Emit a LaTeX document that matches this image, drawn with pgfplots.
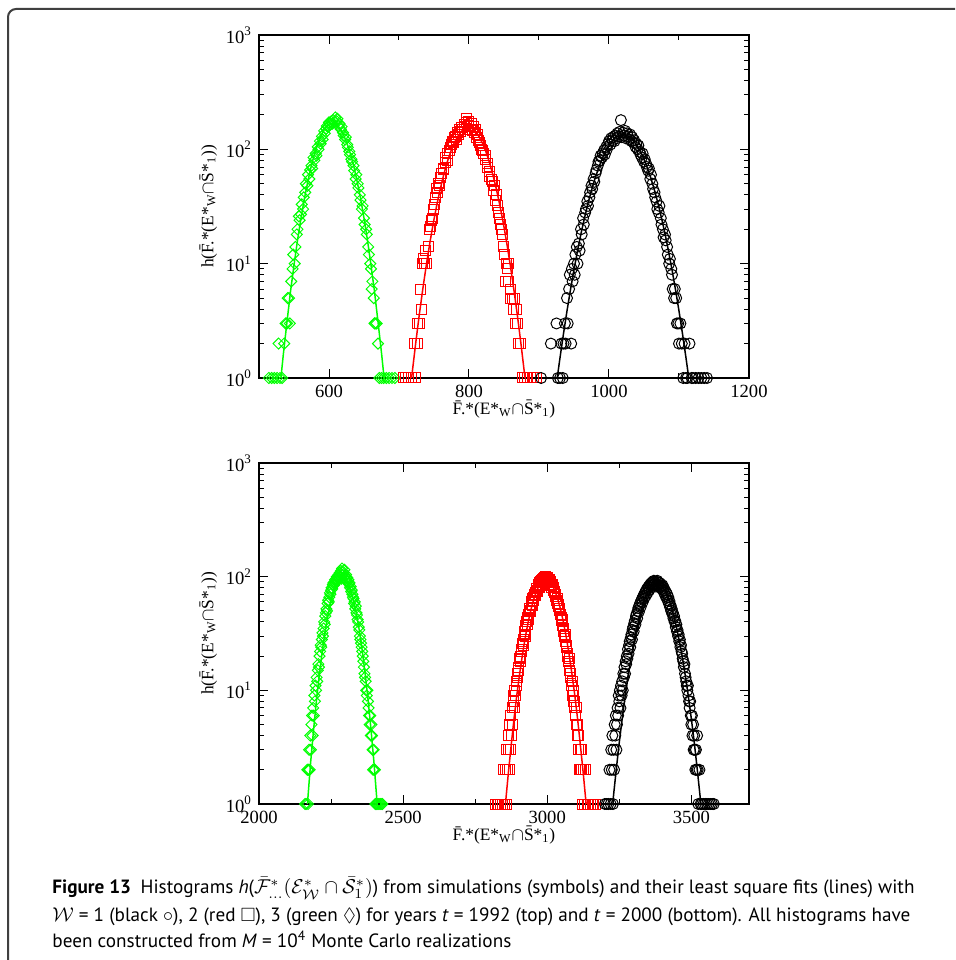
\documentclass[border=0pt]{standalone}
\usepackage{amssymb}
\usepackage{fontspec}
\setmainfont{Liberation Serif}
\newfontfamily\capfont{PT Sans}
\usepackage{pgfplots}
\pgfplotsset{compat=1.18}
\definecolor{xgreen}{RGB}{0,255,0}
\definecolor{xred}{RGB}{255,0,0}
\begin{document}
\begin{tikzpicture}
\path[use as bounding box] (0pt,0pt) rectangle (477.5pt,480pt);
\clip (0pt,0pt) rectangle (477.5pt,480pt);
\draw[black!75, line width=1pt, rounded corners=4pt] (4pt,-5pt) -- (4pt,475.5pt) -- (490pt,475.5pt);

% ---------------- top: t = 1992 ----------------
\begin{axis}[at={(129.5pt,291pt)}, anchor=south west,
  scale only axis, width=245pt, height=171.5pt,
  ymode=log, ymin=1, ymax=1000,
  ytick={1,10,100,1000},
  minor ytick={2,3,4,5,6,7,8,9,20,30,40,50,60,70,80,90,200,300,400,500,600,700,800,900},
  yticklabels={10\textsuperscript{0},10\textsuperscript{1},10\textsuperscript{2},10\textsuperscript{3}},
  xmin=500, xmax=1200, xtick={600,800,1000,1200}, xticklabels={600,800,1000,1200},
  minor xtick={700,900,1100},
  tick align=inside, xtick pos=both, ytick pos=both,
  major tick length=4.5pt, minor tick length=2.3pt,
  tick style={black, line width=0.5pt},
  axis line style={line width=0.75pt},
  tick label style={font=\fontsize{9.3}{11}\selectfont},
  label style={font=\fontsize{8.7}{10}\selectfont},
  xlabel style={yshift=5.5pt}, ylabel style={yshift=-2.5pt},
  clip=false,
  ylabel={h(\=F.*(E*\textsubscript{W}$\cap$\=S*\textsubscript{1}))},
  xlabel={\=F.*(E*\textsubscript{W}$\cap$\=S*\textsubscript{1})}]
\addplot[only marks, mark=square, mark size=1.95pt, mark options={solid, rotate=45, line width=0.5pt, xgreen}] coordinates {
(514,1)(518,1)(522,1)(526,1)(528,2)(530,1)(533,1)(536,2)(538,3)(540,3)(541,5)(543,5)(544,3)(546,7)(548,9)(549,12)(551,10)(552,14)(554,18)(555,20)(557,26)(558,24)(560,27)(561,33)(563,30)(564,38)(566,42)(567,50)(569,48)(570,60)(572,55)(573,66)(575,72)(576,68)(578,85)(579,80)(581,92)(582,88)(584,105)(585,100)(587,118)(588,112)(590,130)(591,122)(593,145)(594,138)(596,152)(597,160)(599,158)(600,172)(602,165)(603,175)(605,168)(606,180)(608,172)(609,190)(611,176)(612,185)(614,160)(615,168)(617,150)(618,158)(620,140)(621,132)(623,122)(624,128)(626,110)(627,104)(629,96)(630,90)(632,82)(633,78)(635,72)(636,65)(638,55)(639,60)(641,50)(642,46)(644,40)(645,36)(647,30)(648,32)(650,25)(651,22)(653,20)(654,18)(656,14)(657,12)(659,10)(660,9)(661,6)(662,7)(664,5)(665,3)(666,3)(668,3)(670,2)(672,1)(675,1)(678,1)(682,1)(686,1)(690,1)(694,1)};
\addplot[no markers, line width=0.75pt, xgreen] coordinates {
(531.3,1)(535,1.66)(540,3.1)(545,5.7)(550,9.7)(555,16)(560,25)(565,37.5)(570,53)(575,73)(580,94)(585,116)(590,137)(595,155)(600,166)(605,170)(610,166)(615,155)(620,137)(625,116)(630,94)(635,73)(640,53)(645,37.5)(650,25)(655,16)(660,9.7)(665,5.7)(670,3.1)(675,1.66)(678.7,1)};
\addplot[only marks, mark=square, mark size=2.5pt, mark options={solid, line width=0.5pt, xred}] coordinates {
(706,1)(710,1)(714,1)(718,1)(722,2)(724,1)(726,2)(727,3)(729,3)(731,6)(732,4)(734,10)(735,11)(737,10)(738,13)(740,10)(742,14)(743,20)(745,21)(746,24)(748,25)(749,30)(751,33)(752,38)(754,45)(755,42)(757,50)(758,48)(760,57)(761,62)(763,68)(764,66)(766,76)(767,84)(769,80)(770,92)(772,98)(773,104)(775,110)(776,118)(778,115)(779,126)(781,130)(782,122)(784,140)(785,135)(787,148)(788,142)(790,155)(791,150)(793,165)(794,158)(796,172)(797,185)(799,160)(800,175)(802,150)(803,168)(805,145)(806,158)(808,140)(809,150)(811,128)(812,135)(814,120)(815,115)(817,108)(818,100)(820,98)(821,92)(823,82)(824,88)(826,75)(827,70)(829,64)(830,58)(832,55)(833,52)(835,44)(836,48)(838,36)(839,40)(841,32)(842,28)(844,25)(845,22)(847,20)(848,18)(850,14)(851,12)(852,7)(853,10)(855,9)(856,7)(857,10)(859,5)(860,6)(862,5)(863,4)(865,5)(866,3)(868,4)(869,3)(871,2)(873,2)(876,1)(880,1)(884,1)(888,1)(892,1)(896,1)};
\addplot[no markers, line width=0.75pt, xred] coordinates {
(718,1)(719,1.13)(724,2.05)(729,3.58)(734,6.0)(739,9.7)(744,15.1)(749,22.7)(754,32.6)(759,45.2)(764,60.4)(769,77.6)(774,95.8)(779,114)(784,130)(789,143.5)(794,152)(799,155)(804,152)(809,143.5)(814,130)(819,114)(824,95.8)(829,77.6)(834,60.4)(839,45.2)(844,32.6)(849,22.7)(854,15.1)(859,9.7)(864,6.0)(869,3.58)(874,2.05)(879,1.13)(880,1)};
\addplot[only marks, mark=o, mark size=2.75pt, mark options={solid, line width=0.5pt, black}] coordinates {
(903,1)(917,2)(925,3)(927,1)(930,1)(932,2)(934,1)(935,2)(937,3)(938,2)(940,5)(941,3)(943,6)(944,8)(946,2)(947,9)(948,7)(950,10)(951,8)(952,12)(954,14)(955,10)(957,15)(958,13)(960,20)(961,18)(963,25)(964,22)(966,28)(967,30)(969,35)(970,32)(972,38)(973,42)(975,48)(976,45)(978,55)(979,52)(981,62)(982,66)(984,72)(985,78)(987,80)(988,88)(990,85)(991,92)(993,98)(994,90)(996,105)(997,100)(999,112)(1000,118)(1002,110)(1003,125)(1005,120)(1006,128)(1008,118)(1009,132)(1011,125)(1012,138)(1014,130)(1015,142)(1017,180)(1018,128)(1020,140)(1021,132)(1023,145)(1024,125)(1026,138)(1027,130)(1029,122)(1030,135)(1032,118)(1033,128)(1035,115)(1036,120)(1038,105)(1039,112)(1041,100)(1042,108)(1044,95)(1045,90)(1047,85)(1048,92)(1050,78)(1051,82)(1053,75)(1054,70)(1056,65)(1057,68)(1059,55)(1060,60)(1062,50)(1063,45)(1065,42)(1066,38)(1068,35)(1069,30)(1071,28)(1072,32)(1074,25)(1075,22)(1077,20)(1078,17)(1080,18)(1081,16)(1083,14)(1084,12)(1086,10)(1087,11)(1089,9)(1090,8)(1091,6)(1093,5)(1094,6)(1096,5)(1097,3)(1099,3)(1100,2)(1102,3)(1104,2)(1106,1)(1108,2)(1110,1)(1112,1)(1115,2)(1118,1)(1120,1)(1124,1)(1128,1)(1132,1)(1136,1)(1140,1)};
\addplot[no markers, line width=0.75pt, black] coordinates {
(926,1)(930,1.5)(935,2.44)(940,3.86)(945,5.93)(950,8.87)(955,12.9)(960,18.3)(965,25.1)(970,33.7)(975,43.8)(980,55.5)(985,68.3)(990,81.9)(995,95.4)(1000,108)(1005,119)(1010,127.7)(1015,133)(1020,135)(1025,133)(1030,127.7)(1035,119)(1040,108)(1045,95.4)(1050,81.9)(1055,68.3)(1060,55.5)(1065,43.8)(1070,33.7)(1075,25.1)(1080,18.3)(1085,12.9)(1090,8.87)(1095,5.93)(1100,3.86)(1105,2.44)(1110,1.5)(1114,1)};
\end{axis}

% ---------------- bottom: t = 2000 ----------------
\begin{axis}[at={(129.5pt,78pt)}, anchor=south west,
  scale only axis, width=245pt, height=170.5pt,
  ymode=log, ymin=1, ymax=1000,
  ytick={1,10,100,1000},
  minor ytick={2,3,4,5,6,7,8,9,20,30,40,50,60,70,80,90,200,300,400,500,600,700,800,900},
  yticklabels={10\textsuperscript{0},10\textsuperscript{1},10\textsuperscript{2},10\textsuperscript{3}},
  xmin=2000, xmax=3700, xtick={2000,2500,3000,3500}, xticklabels={2000,2500,3000,3500},
  minor xtick={2250,2750,3250},
  tick align=inside, xtick pos=both, ytick pos=both,
  major tick length=4.5pt, minor tick length=2.3pt,
  tick style={black, line width=0.5pt},
  axis line style={line width=0.75pt},
  tick label style={font=\fontsize{9.3}{11}\selectfont},
  label style={font=\fontsize{8.7}{10}\selectfont},
  xlabel style={yshift=5.5pt}, ylabel style={yshift=-2.5pt},
  clip=false,
  ylabel={h(\=F.*(E*\textsubscript{W}$\cap$\=S*\textsubscript{1}))},
  xlabel={\=F.*(E*\textsubscript{W}$\cap$\=S*\textsubscript{1})}]
\addplot[only marks, mark=square, mark size=1.95pt, mark options={solid, rotate=45, line width=0.5pt, xgreen}] coordinates {
(2160,1)(2164,1)(2168,2)(2170,1)(2172,2)(2174,3)(2176,2)(2178,4)(2180,3)(2182,5)(2184,6)(2186,4)(2188,7)(2190,6)(2192,9)(2194,8)(2196,11)(2198,10)(2200,13)(2202,12)(2204,15)(2206,17)(2208,16)(2210,20)(2212,22)(2214,25)(2216,24)(2218,28)(2220,32)(2222,30)(2224,35)(2226,40)(2228,38)(2230,45)(2232,48)(2234,52)(2236,50)(2238,58)(2240,62)(2242,60)(2244,66)(2246,72)(2248,70)(2250,76)(2252,80)(2254,78)(2256,85)(2258,88)(2260,84)(2262,90)(2264,94)(2266,88)(2268,96)(2270,100)(2272,92)(2274,98)(2276,104)(2278,96)(2280,108)(2282,100)(2284,112)(2286,96)(2288,118)(2290,104)(2292,110)(2294,98)(2296,115)(2298,102)(2300,96)(2302,104)(2304,92)(2306,98)(2308,90)(2310,94)(2312,86)(2314,88)(2316,80)(2318,82)(2320,74)(2322,76)(2324,70)(2326,66)(2328,64)(2330,58)(2332,60)(2334,52)(2336,55)(2338,48)(2340,46)(2342,42)(2344,40)(2346,36)(2348,34)(2350,30)(2352,28)(2354,26)(2356,24)(2358,22)(2360,20)(2362,18)(2364,16)(2366,14)(2368,13)(2370,12)(2372,10)(2374,9)(2376,10)(2378,8)(2380,7)(2382,6)(2384,5)(2386,6)(2388,4)(2390,5)(2392,4)(2394,3)(2396,2)(2398,3)(2400,2)(2402,2)(2404,1)(2408,1)(2412,1)(2416,1)(2420,1)(2424,1)(2428,1)};
\addplot[no markers, line width=0.75pt, xgreen] coordinates {
(2168,1)(2179,2.3)(2189,4.4)(2199,8.0)(2209,13.5)(2219,21.6)(2229,32.5)(2239,45.8)(2249,60.7)(2259,75.5)(2269,88.2)(2279,96.9)(2289,100)(2299,96.9)(2309,88.2)(2319,75.5)(2329,60.7)(2339,45.8)(2349,32.5)(2359,21.6)(2369,13.5)(2379,8.0)(2389,4.4)(2399,2.3)(2410,1)};
\addplot[only marks, mark=square, mark size=2.5pt, mark options={solid, line width=0.5pt, xred}] coordinates {
(2820,1)(2826,1)(2832,1)(2838,1)(2844,1)(2848,2)(2852,1)(2856,2)(2858,3)(2860,1)(2862,2)(2864,3)(2866,4)(2868,2)(2870,5)(2872,3)(2874,6)(2876,4)(2878,7)(2880,5)(2882,8)(2884,9)(2886,7)(2888,10)(2890,9)(2892,12)(2894,11)(2896,14)(2898,13)(2900,16)(2902,15)(2904,19)(2906,20)(2908,18)(2910,23)(2912,22)(2914,26)(2916,28)(2918,25)(2920,31)(2922,33)(2924,30)(2926,37)(2928,40)(2930,38)(2932,44)(2934,46)(2936,42)(2938,50)(2940,53)(2942,49)(2944,57)(2946,60)(2948,56)(2950,64)(2952,66)(2954,62)(2956,70)(2958,72)(2960,68)(2962,76)(2964,79)(2966,74)(2968,82)(2970,85)(2972,80)(2974,88)(2976,90)(2978,84)(2980,92)(2982,95)(2984,88)(2986,96)(2988,92)(2990,98)(2992,90)(2994,100)(2996,94)(2998,97)(3000,90)(3002,99)(3004,93)(3006,88)(3008,95)(3010,86)(3012,90)(3014,84)(3016,80)(3018,85)(3020,76)(3022,80)(3024,72)(3026,74)(3028,67)(3030,70)(3032,62)(3034,64)(3036,58)(3038,55)(3040,57)(3042,50)(3044,52)(3046,46)(3048,44)(3050,41)(3052,42)(3054,37)(3056,35)(3058,33)(3060,30)(3062,31)(3064,27)(3066,25)(3068,24)(3070,21)(3072,20)(3074,18)(3076,19)(3078,15)(3080,14)(3082,13)(3084,11)(3086,12)(3088,9)(3090,10)(3092,8)(3094,7)(3096,8)(3098,6)(3100,5)(3102,7)(3104,4)(3106,5)(3108,3)(3110,4)(3112,2)(3114,3)(3116,2)(3118,3)(3120,2)(3122,1)(3126,2)(3130,1)(3134,2)(3138,1)(3144,1)(3150,1)(3156,1)(3162,1)(3168,1)};
\addplot[no markers, line width=0.75pt, xred] coordinates {
(2855,1)(2865,1.86)(2875,3.3)(2885,5.7)(2895,9.3)(2905,14.4)(2915,21.4)(2925,30.4)(2935,41.1)(2945,53.1)(2955,65.5)(2965,77)(2975,86.6)(2985,92.8)(2995,95)(3005,92.8)(3015,86.6)(3025,77)(3035,65.5)(3045,53.1)(3055,41.1)(3065,30.4)(3075,21.4)(3085,14.4)(3095,9.3)(3105,5.7)(3115,3.3)(3125,1.86)(3135,1)};
\addplot[only marks, mark=o, mark size=2.75pt, mark options={solid, line width=0.5pt, black}] coordinates {
(3200,1)(3206,1)(3212,1)(3216,2)(3220,1)(3222,3)(3224,2)(3226,4)(3228,1)(3230,3)(3232,2)(3234,5)(3236,4)(3238,6)(3240,3)(3242,5)(3244,7)(3246,6)(3248,9)(3250,8)(3252,10)(3254,7)(3256,11)(3258,9)(3260,12)(3262,10)(3264,14)(3266,13)(3268,16)(3270,14)(3272,18)(3274,17)(3276,20)(3278,19)(3280,23)(3282,21)(3284,25)(3286,27)(3288,24)(3290,29)(3292,31)(3294,28)(3296,34)(3298,36)(3300,33)(3302,39)(3304,41)(3306,38)(3308,45)(3310,47)(3312,43)(3314,50)(3316,53)(3318,49)(3320,56)(3322,58)(3324,54)(3326,61)(3328,63)(3330,59)(3332,66)(3334,68)(3336,64)(3338,71)(3340,73)(3342,68)(3344,76)(3346,78)(3348,72)(3350,80)(3352,82)(3354,76)(3356,84)(3358,86)(3360,80)(3362,88)(3364,84)(3366,90)(3368,85)(3370,92)(3372,86)(3374,88)(3376,82)(3378,90)(3380,85)(3382,92)(3384,84)(3386,89)(3388,83)(3390,88)(3392,80)(3394,86)(3396,82)(3398,78)(3400,84)(3402,76)(3404,80)(3406,72)(3408,76)(3410,68)(3412,73)(3414,65)(3416,70)(3418,62)(3420,66)(3422,58)(3424,61)(3426,54)(3428,56)(3430,50)(3432,52)(3434,47)(3436,48)(3438,43)(3440,45)(3442,40)(3444,41)(3446,36)(3448,38)(3450,33)(3452,34)(3454,30)(3456,31)(3458,27)(3460,28)(3462,24)(3464,25)(3466,22)(3468,21)(3470,19)(3472,18)(3474,16)(3476,17)(3478,14)(3480,13)(3482,12)(3484,11)(3486,10)(3488,11)(3490,9)(3492,8)(3494,7)(3496,8)(3498,6)(3500,5)(3502,6)(3504,4)(3506,5)(3508,3)(3510,4)(3512,3)(3514,2)(3516,3)(3518,2)(3520,4)(3522,2)(3524,1)(3528,2)(3532,1)(3536,1)(3542,1)(3548,1)(3554,1)(3560,1)(3566,1)(3572,1)(3578,1)};
\addplot[no markers, line width=0.75pt, black] coordinates {
(3228,1)(3230,1.19)(3240,2.07)(3250,3.5)(3260,5.6)(3270,8.7)(3280,13.0)(3290,18.7)(3300,25.9)(3310,34.5)(3320,44.2)(3330,54.6)(3340,64.8)(3350,74.1)(3360,81.5)(3370,86.3)(3380,88)(3390,86.3)(3400,81.5)(3410,74.1)(3420,64.8)(3430,54.6)(3440,44.2)(3450,34.5)(3460,25.9)(3470,18.7)(3480,13.0)(3490,8.7)(3500,5.6)(3510,3.5)(3520,2.07)(3530,1.19)(3532,1)};
\end{axis}

% ---------------- caption ----------------
\begin{scope}[every node/.style={anchor=base west, inner sep=0pt, font=\capfont\fontsize{9.6}{11}\selectfont}]
\node at (26pt,33pt) {\textbf{Figure 13}\hspace{0.5em}Histograms \textit{h}($\bar{\mathcal{F}}^{*}_{\ldots}(\mathcal{E}^{*}_{\mathcal{W}}\cap\bar{\mathcal{S}}^{*}_{1})$) from simulations (symbols) and their least square fits (lines) with};
\node at (26pt,19.5pt) {$\mathcal{W}$ = 1 (black $\circ$), 2 (red $\square$), 3 (green $\lozenge$) for years \textit{t} = 1992 (top) and \textit{t} = 2000 (bottom). All histograms have};
\node at (26pt,6pt) {been constructed from \textit{M} = 10\textsuperscript{4} Monte Carlo realizations};
\end{scope}
\end{tikzpicture}
\end{document}
